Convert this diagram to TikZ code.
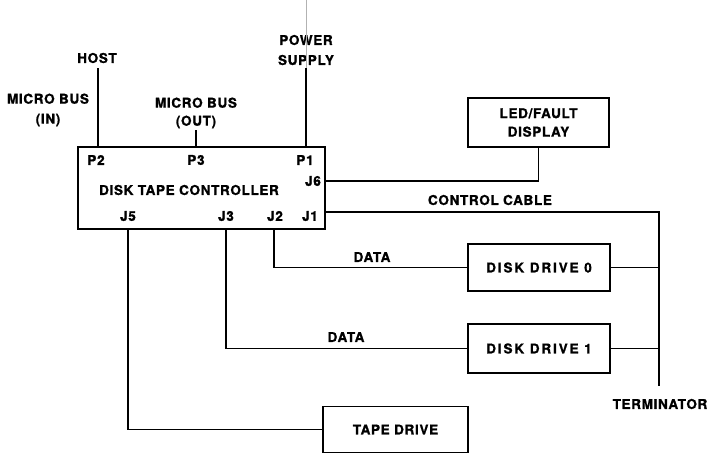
\documentclass[tikz,border=0pt]{standalone}
\usepackage{fontspec}
\newfontfamily\lbl[LetterSpace=5,FakeBold=1.2]{TeX Gyre Heros}
\newfontfamily\lblwide[LetterSpace=14,FakeBold=1.2]{TeX Gyre Heros}
\begin{document}
\begin{tikzpicture}[x=1pt,y=-1pt,
  txt/.style={inner sep=0pt,align=center,font=\lbl\bfseries\fontsize{13.5}{20}\selectfont},
  box/.style={draw,line width=1.8pt,inner sep=0pt,align=center,font=\lbl\bfseries\fontsize{13.5}{18.5}\selectfont},
  wire/.style={line width=1.2pt}]
\useasboundingbox (0,0) rectangle (715,455);
% boxes
\node[box,minimum width=247pt,minimum height=82pt] (ctrl) at (201.5,188) {};
\node[box,minimum width=141pt,minimum height=49pt] (led) at (538.5,122.5) {LED/FAULT\\DISPLAY};
\node[box,minimum width=142pt,minimum height=47pt,font=\lblwide\bfseries\fontsize{13.5}{19}\selectfont] (dd0) at (539,267.5) {DISK DRIVE 0};
\node[box,minimum width=142pt,minimum height=49pt,font=\lblwide\bfseries\fontsize{13.5}{19}\selectfont] (dd1) at (539,348.5) {DISK DRIVE 1};
\node[box,minimum width=145pt,minimum height=46pt] (tape) at (395.5,429.5) {TAPE DRIVE};
% inside labels
\node[txt] (p2) at (96,160) {P2};
\node[txt] (p3) at (196,160) {P3};
\node[txt] (p1) at (305,160) {P1};
\node[txt] (j6) at (313,181) {J6};
\node[txt] (name) at (189,190) {DISK TAPE CONTROLLER};
\node[txt] (j5) at (128,216) {J5};
\node[txt] (j3) at (226,216) {J3};
\node[txt] (j2) at (275,216) {J2};
\node[txt] (j1) at (310,216) {J1};
% outside labels
\node[txt] (host) at (97,58) {HOST};
\node[txt] (mbin) at (48,110) {MICRO BUS\\(IN)};
\node[txt,font=\lbl\bfseries\fontsize{13.5}{18}\selectfont] (mbout) at (196,113) {MICRO BUS\\(OUT)};
\node[txt] (power) at (306,50) {POWER\\SUPPLY};
\node[txt] (cc) at (490,200) {CONTROL CABLE};
\node[txt] (data0) at (372,257) {DATA};
\node[txt] (data1) at (346,337) {DATA};
\node[txt] (termlbl) at (660,404) {TERMINATOR};
% connector end points
\coordinate (hostend) at (98,68);
\coordinate (outend) at (196,130);
\coordinate (powend) at (306,68);
\coordinate (term) at (659,386);
\coordinate (scan) at (306,0);
% faint scan line
\draw[gray!60,line width=0.5pt] (scan) -- (powend);
% connectors
\draw[wire] (hostend) -- (hostend |- ctrl.north);
\draw[wire] (outend) -- (outend |- ctrl.north);
\draw[wire] (powend) -- (powend |- ctrl.north);
\draw[wire] (ctrl.east |- 0,181) -| (led.south);
\draw[wire] (ctrl.east |- 0,212) -| (term);
\draw[wire] (dd0.east) -- (term |- dd0.east);
\draw[wire] (dd1.east) -- (term |- dd1.east);
\draw[wire] (ctrl.south -| 274,0) |- (dd0.west);
\draw[wire] (ctrl.south -| 226,0) |- (dd1.west);
\draw[wire] (ctrl.south -| 128,0) |- (tape.west);
\end{tikzpicture}
\end{document}
